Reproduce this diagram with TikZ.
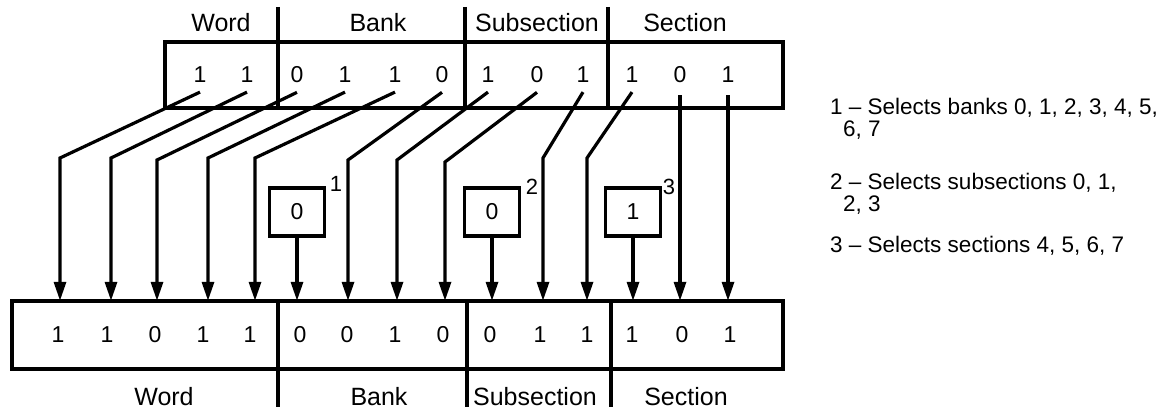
\documentclass[tikz,border=0pt]{standalone}
\usepackage{fontspec}
\setmainfont{Liberation Sans}
\usetikzlibrary{arrows.meta}
\begin{document}
\begin{tikzpicture}[x=1pt,y=-1pt,
  reg/.style={draw, line width=3.6pt, inner sep=0pt},
  bit/.style={inner sep=0pt, font=\fontsize{23}{23}\selectfont},
  lowbit/.style={bit, minimum height=68pt},
  lbl/.style={anchor=base, inner sep=0pt, font=\fontsize{25}{25}\selectfont},
  wire/.style={line width=3.2pt},
  arr/.style={wire, -{Triangle[length=19pt,width=12pt]}},
  divider/.style={line width=3.2pt},
  fixbox/.style={draw, line width=3.6pt, minimum width=55pt, minimum height=48pt, inner sep=0pt, font=\fontsize{23}{23}\selectfont},
  note/.style={anchor=base west, inner sep=0pt, font=\fontsize{22.5}{22.5}\selectfont},
  foot/.style={inner sep=0pt, font=\fontsize{22}{22}\selectfont}
]
\useasboundingbox (0,0) rectangle (1170,414);

% registers
\node[reg, minimum width=618pt, minimum height=66pt] (top) at (474,75) {};
\node[reg, minimum width=771pt, minimum height=68pt] (bot) at (397.5,335) {};

% dividers
\draw[divider] (278,7) -- (278,108);
\draw[divider] (465,7) -- (465,108);
\draw[divider] (608,7) -- (608,108);
\draw[divider] (278,301) -- (278,407);
\draw[divider] (467,301) -- (467,407);
\draw[divider] (611,301) -- (611,407);

% field labels
\node[lbl] (lw1) at (221,32) {Word};
\node[lbl] (lb1) at (378,32) {Bank};
\node[lbl] (ls1) at (537,32) {Subsection};
\node[lbl] (lc1) at (685,32) {Section};
\node[lbl] (lw2) at (164,405) {Word};
\node[lbl] (lb2) at (379,405) {Bank};
\node[lbl] (ls2) at (535,405) {Subsection};
\node[lbl] (lc2) at (686,405) {Section};

% top bits
\foreach \x/\v [count=\i] in {200/1,247/1,297/0,345/1,395/1,442/0,488/1,537/0,583/1,632/1,680/0,728/1}
  \node[bit] (t\i) at (\x,75) {\v};

% bottom bits
\foreach \x/\v [count=\i] in {58/1,107/1,155/0,203/1,250/1,300/0,347/0,395/1,443/0,490/0,540/1,587/1,632/1,682/0,730/1}
  \node[lowbit] (b\i) at (\x,335) {\v};

% constant boxes
\node[fixbox] (c1) at (297,212) {0};
\node[fixbox] (c2) at (492,212) {0};
\node[fixbox] (c3) at (633,212) {1};
\node[foot] (f1) at (336,184) {1};
\node[foot] (f2) at (532,187) {2};
\node[foot] (f3) at (669,187) {3};

% bends
\coordinate (k1) at (60,158);
\coordinate (k2) at (111,158);
\coordinate (k3) at (157,160);
\coordinate (k4) at (208,158);
\coordinate (k5) at (255,158);
\coordinate (k6) at (348,160);
\coordinate (k7) at (397,160);
\coordinate (k8) at (445,162);
\coordinate (k9) at (543,158);
\coordinate (k10) at (587,158);

% wires
\foreach \s/\d/\k in {1/1/1,2/2/2,3/3/3,4/4/4,5/5/5,6/7/6,7/8/7,8/9/8,9/11/9,10/12/10}
  \draw[arr] ([yshift=-9pt]t\s.south) -- (k\k) -- (k\k |- b\d.north);
\draw[arr] ([yshift=-12pt]t11.south) -- (t11.south |- b14.north);
\draw[arr] ([yshift=-12pt]t12.south) -- (t12.south |- b15.north);
\draw[arr] (c1.south) -- (c1.south |- b6.north);
\draw[arr] (c2.south) -- (c2.south |- b10.north);
\draw[arr] (c3.south) -- (c3.south |- b13.north);

% notes
\node[note] (n1) at (830,115) {1 -- Selects banks 0, 1, 2, 3, 4, 5,};
\node[note] (n1b) at (843,137) {6, 7};
\node[note] (n2) at (830,190) {2 -- Selects subsections 0, 1,};
\node[note] (n2b) at (843,212) {2, 3};
\node[note] (n3) at (830,253) {3 -- Selects sections 4, 5, 6, 7};
\end{tikzpicture}
\end{document}
